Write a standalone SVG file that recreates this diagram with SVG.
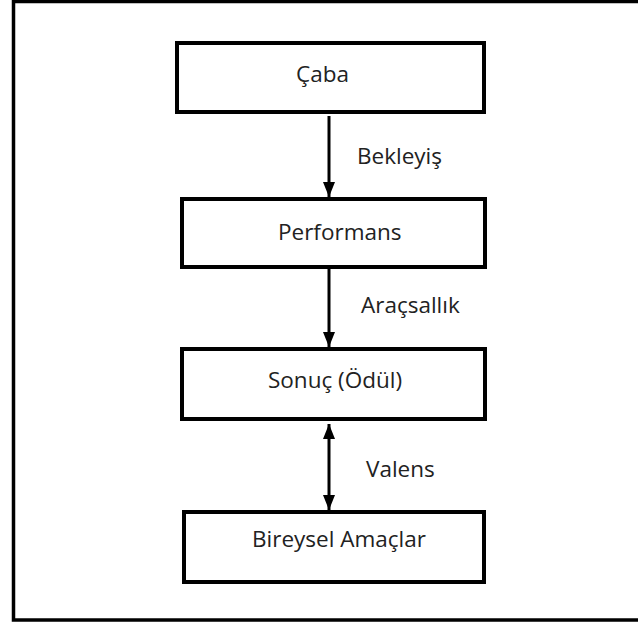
<svg xmlns="http://www.w3.org/2000/svg" width="638" height="623" viewBox="0 0 638 623">
<defs>
<style>
.box{fill:#fff;stroke:#000;stroke-width:4}
.lbl{font-family:"Open Sans","Noto Sans","Liberation Sans",sans-serif;font-size:22.5px;fill:#222}
.con{stroke:#000;stroke-width:3;fill:none}
</style>
<marker id="ah" viewBox="0 0 15 12" refX="15" refY="6" markerWidth="15" markerHeight="12" markerUnits="userSpaceOnUse" orient="auto-start-reverse">
<path d="M0,0 L15,6 L0,12 Z" fill="#000"/>
</marker>
</defs>
<rect width="638" height="623" fill="#fff"/>
<rect x="13.5" y="1.5" width="640" height="618.5" fill="none" stroke="#000" stroke-width="3.5"/>
<g id="connectors">
<line class="con" x1="329" y1="116" x2="329" y2="197" marker-end="url(#ah)"/>
<line class="con" x1="329" y1="269" x2="329" y2="347" marker-end="url(#ah)"/>
<line class="con" x1="329" y1="424" x2="329" y2="510" marker-start="url(#ah)" marker-end="url(#ah)"/>
<text class="lbl" x="357" y="164">Bekleyiş</text>
<text class="lbl" x="361" y="313">Araçsallık</text>
<text class="lbl" x="366" y="477">Valens</text>
</g>
<g id="caba">
<rect class="box" x="177" y="43" width="307" height="69"/>
<text class="lbl" x="296" y="82">Çaba</text>
</g>
<g id="performans">
<rect class="box" x="182" y="199" width="303" height="68"/>
<text class="lbl" x="278" y="240">Performans</text>
</g>
<g id="sonuc">
<rect class="box" x="182" y="349" width="303" height="70"/>
<text class="lbl" x="268" y="388">Sonuç (Ödül)</text>
</g>
<g id="bireysel">
<rect class="box" x="184" y="512" width="300" height="70"/>
<text class="lbl" x="252" y="547">Bireysel Amaçlar</text>
</g>
</svg>
